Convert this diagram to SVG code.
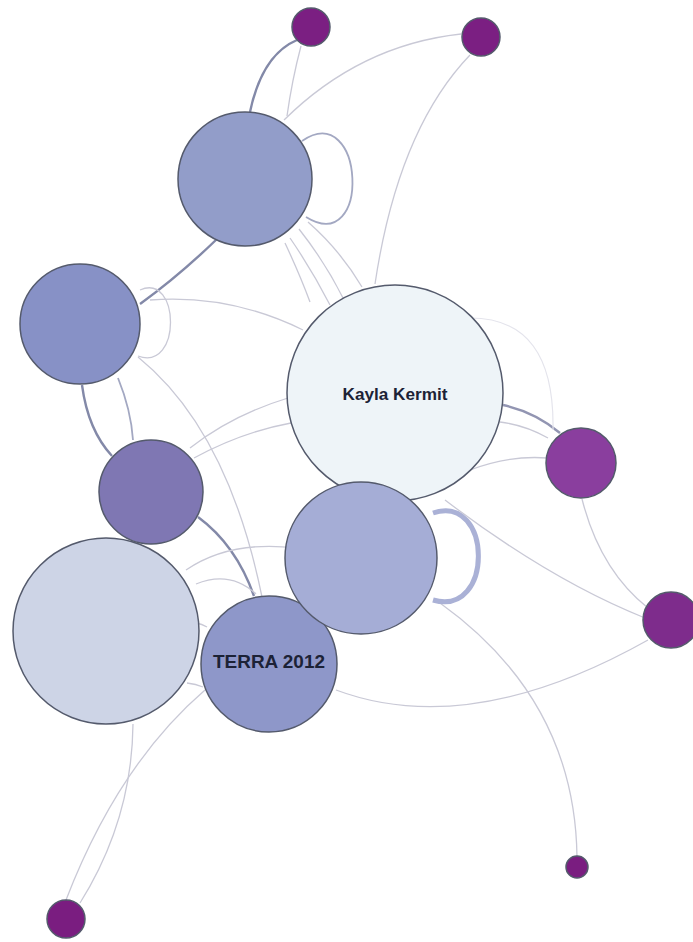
<svg xmlns="http://www.w3.org/2000/svg" width="693" height="942" viewBox="0 0 693 942">
<style>
.e{fill:none;stroke:#c9c9d6;stroke-width:1.3}
.ef{fill:none;stroke:#e4e4ec;stroke-width:1.2}
.ed{fill:none;stroke:#8389a8;stroke-width:2.4}
.em{fill:none;stroke:#a3a8c2;stroke-width:1.8}
.n{stroke:#545a6c;stroke-width:1.5}
.lbl{font-family:"Liberation Sans",Arial,sans-serif;fill:#1c2236;text-anchor:middle;font-weight:bold}
</style>
<rect width="693" height="942" fill="#ffffff"/>
<g id="edges">
<path class="ed" d="M250,112 Q262,55 297,40"/>
<path class="e" d="M301,46 Q292,80 287,116"/>
<path class="e" d="M461,34 Q360,45 284,120"/>
<path class="e" d="M470,55 Q398,130 375,284"/>
<path class="em" d="M302,141 C365,98 372,258 306,217"/>
<path class="ed" d="M218,238 Q180,275 140,304"/>
<path class="e" d="M290,238 Q312,270 330,305"/>
<path class="e" d="M299,229 Q325,262 343,298"/>
<path class="e" d="M308,222 Q340,250 362,287"/>
<path class="e" d="M285,243 Q300,275 310,302"/>
<path class="e" d="M140,290 C180,272 182,372 138,356"/>
<path class="e" d="M150,300 Q230,294 303,330"/>
<path class="ed" d="M82,385 Q88,430 112,456"/>
<path class="em" d="M118,378 Q131,410 133,440"/>
<path class="e" d="M138,357 Q228,430 262,597"/>
<path class="ed" d="M198,517 Q236,545 254,596"/>
<path class="e" d="M190,448 Q232,415 288,398"/>
<path class="e" d="M194,458 Q242,432 291,423"/>
<path class="e" d="M186,570 Q230,540 296,548"/>
<path class="e" d="M196,584 Q230,570 256,594"/>
<path class="e" d="M196,623 Q202,624 207,627"/>
<path class="e" d="M187,683 Q196,684 203,687"/>
<path class="e" d="M133,724 Q132,820 80,903"/>
<path class="e" d="M205,690 Q118,765 66,900"/>
<path class="e" d="M336,690 Q470,740 648,640"/>
<path class="e" d="M440,603 Q575,700 577,857"/>
<path fill="none" stroke="#aab1d6" stroke-width="5" d="M433,513 C493,493 494,618 433,600"/>
<path fill="none" stroke="#9295b2" stroke-width="2.4" d="M503,405 Q535,412 560,433"/>
<path class="e" d="M500,422 Q525,425 548,438"/>
<path class="e" d="M470,470 Q510,455 547,458"/>
<path class="e" d="M445,500 Q550,580 645,618"/>
<path class="e" d="M582,499 Q600,570 648,608"/>
<path class="ef" d="M470,318 Q555,318 553,430"/>
</g>
<g id="n1"><circle class="n" cx="311" cy="27" r="19" fill="#7b1f82"/></g>
<g id="n2"><circle class="n" cx="481" cy="37" r="19" fill="#7b1f82"/></g>
<g id="nA"><circle class="n" cx="245" cy="179" r="67" fill="#929dc9"/></g>
<g id="nB"><circle class="n" cx="80" cy="324" r="60" fill="#8791c6"/></g>
<g id="nKayla"><circle class="n" cx="395" cy="393" r="108" fill="#eef4f8"/><text class="lbl" x="395" y="400" font-size="17" textLength="105" lengthAdjust="spacingAndGlyphs">Kayla Kermit</text></g>
<g id="nG"><circle class="n" cx="106" cy="631" r="93" fill="#cdd4e6"/></g>
<g id="nC"><circle class="n" cx="151" cy="492" r="52" fill="#7f77b3"/></g>
<g id="nTERRA"><circle class="n" cx="269" cy="664" r="68" fill="#8e97c9"/><text class="lbl" x="269" y="668" font-size="19" textLength="112" lengthAdjust="spacingAndGlyphs">TERRA 2012</text></g>
<g id="nD"><circle class="n" cx="361" cy="558" r="76" fill="#a5add6"/></g>
<g id="nE"><circle class="n" cx="581" cy="463" r="35" fill="#8a3e9e"/></g>
<g id="nF"><circle class="n" cx="671" cy="620" r="28" fill="#7e2c8c"/></g>
<g id="nH"><circle class="n" cx="66" cy="919" r="19" fill="#7a1d80"/></g>
<g id="nI"><circle class="n" cx="577" cy="867" r="11" fill="#7a1d80"/></g>
</svg>
